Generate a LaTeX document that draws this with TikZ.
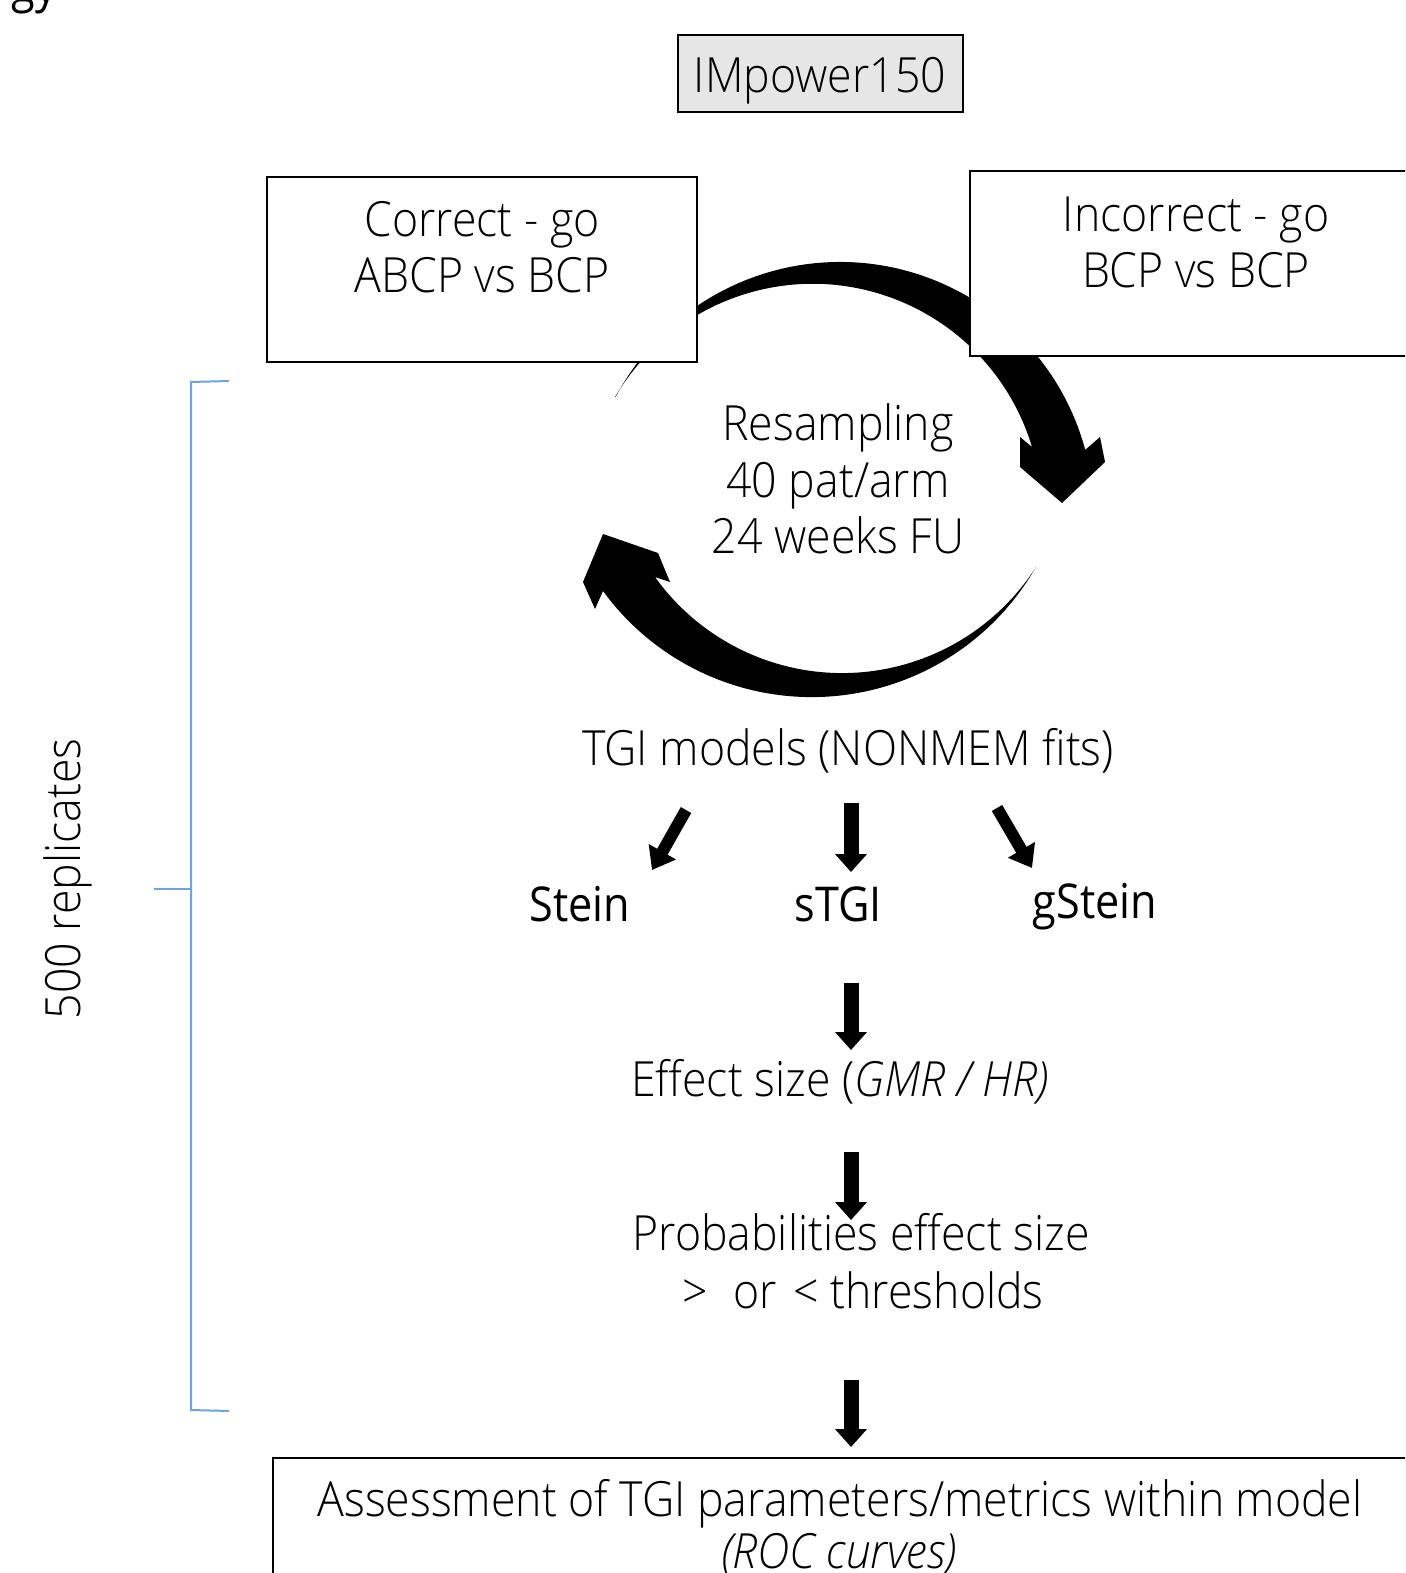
\documentclass[tikz,border=0pt]{standalone}
\usepackage{fontspec}
\setmainfont{Open Sans}[UprightFont=* Light, ItalicFont=* Light Italic, FakeStretch=0.92]
\newfontfamily\regfont{Open Sans}[FakeStretch=0.9]
\usetikzlibrary{arrows.meta,calc}
\definecolor{bracecol}{RGB}{110,165,222}
\definecolor{impgray}{RGB}{231,230,230}
\begin{document}
\begin{tikzpicture}[x=1pt,y=-1pt,
  box/.style={draw=black, line width=2.5pt, fill=white, inner sep=0pt},
  txt/.style={font=\fontsize{48.5}{56}\selectfont, inner sep=0pt, anchor=base},
  regtxt/.style={font=\regfont\fontsize{48}{56}\selectfont, inner sep=0pt, anchor=base},
  blk/.style={line width=15pt, -{Triangle[width=31pt,length=18pt]}},
  diag/.style={line width=12pt, -{Triangle[width=30pt,length=21pt]}},
  bracket/.style={draw=bracecol, line width=2pt}]

\useasboundingbox (0,0) rectangle (1405,1573);
\clip (0,0) rectangle (1405,1573);
\fill[white] (0,0) rectangle (1405,1573);

% cut-off title
\node[regtxt, anchor=base east] (title) at (57,3) {gy};

% circular arrows
\fill[black] ($(840,516)+(-152.1:254)$) arc[start angle=-152.1, end angle=-15.1, radius=254]
  -- (1100,437) -- (1105,462) -- (1062,503) -- (1020,467) -- (1020,437) -- (1032,447)
  arc[start angle=-16.7, end angle=-149.6, radius=229] -- cycle;
\fill[black] ($(811.7,438.8)+(29.75:258.3)$) arc[start angle=29.75, end angle=143.9, radius=258.3]
  -- (595,609) -- (583,582) -- (603,534) -- (658,553) -- (670,582) -- (655,577)
  arc[start angle=144.35, end angle=32.6, radius=230.3] -- cycle;

% boxes
\node[box, fill=impgray, minimum width=285, minimum height=77] (impbox) at (820.5,73.5) {};
\node[box, minimum width=430, minimum height=185] (corbox) at (482,269.5) {};
\node[box, minimum width=452, minimum height=185] (incbox) at (1196,263.5) {};
\node[box, minimum width=1134, minimum height=160] (assbox) at (840,1538) {};

% texts
\node[txt] (imp) at (820,93) {IMpower150};
\node[txt] (cor1) at (482,236) {Correct - go};
\node[txt] (cor2) at (482,292) {ABCP vs BCP};
\node[txt] (inc1) at (1196,231) {Incorrect - go};
\node[txt] (inc2) at (1196,287) {BCP vs BCP};
\node[txt] (res1) at (838,440) {Resampling};
\node[txt] (res2) at (838,497) {40 pat/arm};
\node[txt] (res3) at (838,553) {24 weeks FU};
\node[txt] (tgi) at (848,765) {TGI models (NONMEM fits)};
\node[regtxt] (stein) at (580,921) {Stein};
\node[regtxt] (stgi) at (838,921) {sTGI};
\node[regtxt] (gstein) at (1095,918) {gStein};
\node[txt] (eff) at (840,1096) {Effect size (\textit{GMR / HR)}};
\node[txt] (prob1) at (861,1250) {Probabilities effect size};
\node[txt] (prob2) at (863,1308) {>\hspace{14pt} or\hspace{5pt} < thresholds};
\node[txt] (ass1) at (840,1516) {Assessment of TGI parameters/metrics within model};
\node[txt] (ass2) at (839,1568) {\textit{(ROC curves)}};
\node[txt, rotate=90] (rep) at (80,879) {500 replicates};

% bracket
\draw[bracket] (229,381) -- (191,382) -- (191,1410) -- (229,1411);
\draw[bracket] (191,889) -- (154,889);

% block arrows
\coordinate (a1s) at (686,810); \coordinate (a1e) at (652,870);
\coordinate (a2s) at (851,803); \coordinate (a2e) at (851,872);
\coordinate (a3s) at (997,808); \coordinate (a3e) at (1032,868);
\coordinate (a4s) at (851,983); \coordinate (a4e) at (851,1050);
\coordinate (a5s) at (851,1152); \coordinate (a5e) at (851,1220);
\coordinate (a6s) at (851,1380); \coordinate (a6e) at (851,1447);
\draw[diag] (a1s) -- (a1e);
\draw[blk] (a2s) -- (a2e);
\draw[diag] (a3s) -- (a3e);
\draw[blk] (a4s) -- (a4e);
\draw[blk] (a5s) -- (a5e);
\draw[blk] (a6s) -- (a6e);
\end{tikzpicture}
\end{document}
